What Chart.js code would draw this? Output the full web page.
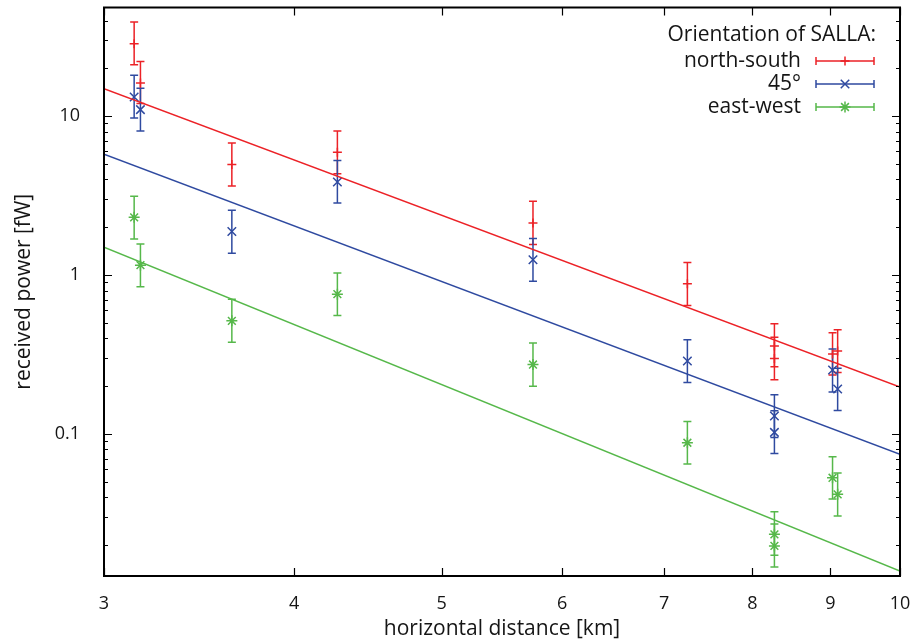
<!DOCTYPE html>
<html>
<head>
<meta charset="utf-8">
<script src="https://cdn.jsdelivr.net/npm/chart.js@4.4.0/dist/chart.umd.min.js"></script>
<style>
    html, body { margin: 0; padding: 0; background: #fff; }
</style>
</head>
<body>
<canvas id="sallaChart" width="912" height="642"></canvas>
<script>
// Distância horizontal dos pontos de medida [km]
const distances = [3.14, 3.17, 3.64, 4.27, 5.74, 7.25, 8.27, 8.27, 9.03, 9.10];

// Potência recebida [fW] e limites das barras de erro, por orientação
const nsPower = [28.6, 16.2, 4.97, 5.94, 2.13, 0.882, 0.358, 0.299, 0.319, 0.333];
const nsLow   = [21.1, 12.0, 3.64, 4.34, 1.56, 0.645, 0.265, 0.220, 0.235, 0.244];
const nsHigh  = [39.2, 22.1, 6.79, 8.08, 2.92, 1.20, 0.494, 0.407, 0.434, 0.453];

const d45Power = [13.2, 11.0, 1.88, 3.86, 1.249, 0.288, 0.130, 0.1025, 0.253, 0.192];
const d45Low   = [9.76, 8.08, 1.375, 2.84, 0.917, 0.211, 0.0953, 0.0756, 0.184, 0.141];
const d45High  = [18.1, 15.0, 2.56, 5.27, 1.70, 0.392, 0.177, 0.140, 0.343, 0.260];

const ewPower = [2.31, 1.156, 0.516, 0.759, 0.274, 0.0882, 0.0234, 0.0198, 0.0531, 0.0418];
const ewLow   = [1.69, 0.844, 0.379, 0.557, 0.200, 0.0648, 0.0173, 0.0146, 0.039, 0.0305];
const ewHigh  = [3.14, 1.57, 0.706, 1.03, 0.374, 0.120, 0.0325, 0.0272, 0.072, 0.0569];

// Retas de ajuste (lei de potência) nos extremos do eixo x
const fitX   = [3, 10];
const nsFit  = [14.9, 0.198];
const d45Fit = [5.77, 0.0745];
const ewFit  = [1.50, 0.01375];

// Rótulos dos eixos
const xTicks = [3, 4, 5, 6, 7, 8, 9, 10];
const yTicks = [0.1, 1, 10];

const RED = '#ec2227';
const BLUE = '#2f4aa0';
const GREEN = '#56b84a';
const TEXT = '#151515';
const FONT = "'Open Sans', sans-serif";

function toPoints(xs, ys) {
    return xs.map((x, i) => ({ x: x, y: ys[i] }));
}

function seriesDataset(label, values, low, high, color, style, radius) {
    return {
        label: label,
        data: toPoints(distances, values),
        errLow: low,
        errHigh: high,
        showLine: false,
        borderColor: color,
        backgroundColor: color,
        pointStyle: style,
        pointRadius: radius,
        pointBorderWidth: 1.5
    };
}

function fitDataset(values, color) {
    return {
        data: toPoints(fitX, values),
        showLine: true,
        borderColor: color,
        borderWidth: 1.5,
        pointRadius: 0,
        fill: false
    };
}

const series = [
    seriesDataset('north-south', nsPower, nsLow, nsHigh, RED, 'cross', 4.5),
    seriesDataset('45°', d45Power, d45Low, d45High, BLUE, 'crossRot', 6),
    seriesDataset('east-west', ewPower, ewLow, ewHigh, GREEN, 'star', 5.5)
];

// Barras de erro desenhadas com as escalas do gráfico
const errorBars = {
    id: 'errorBars',
    beforeDatasetsDraw(chart) {
        const ctx = chart.ctx;
        const xs = chart.scales.x, ys = chart.scales.y;
        ctx.save();
        chart.data.datasets.forEach(ds => {
            if (!ds.errLow) return;
            ctx.strokeStyle = ds.borderColor;
            ctx.lineWidth = 1.5;
            ds.data.forEach((p, i) => {
                const px = xs.getPixelForValue(p.x);
                const y1 = ys.getPixelForValue(ds.errLow[i]);
                const y2 = ys.getPixelForValue(ds.errHigh[i]);
                ctx.beginPath();
                ctx.moveTo(px, y1); ctx.lineTo(px, y2);
                ctx.moveTo(px - 4, y1); ctx.lineTo(px + 4, y1);
                ctx.moveTo(px - 4, y2); ctx.lineTo(px + 4, y2);
                ctx.stroke();
            });
        });
        ctx.restore();
    }
};

// Moldura com marcas para dentro (estilo gnuplot)
const frameTicks = {
    id: 'frameTicks',
    afterDatasetsDraw(chart) {
        const ctx = chart.ctx;
        const a = chart.chartArea;
        const xs = chart.scales.x, ys = chart.scales.y;
        ctx.save();
        ctx.strokeStyle = '#000';
        ctx.lineWidth = 1.2;
        ctx.beginPath();
        xTicks.forEach(v => {
            const px = Math.round(xs.getPixelForValue(v)) + 0.5;
            ctx.moveTo(px, a.bottom); ctx.lineTo(px, a.bottom - 8);
            ctx.moveTo(px, a.top); ctx.lineTo(px, a.top + 8);
        });
        for (let e = -2; e <= 1; e++) {
            for (let m = 1; m <= 9; m++) {
                const v = m * Math.pow(10, e);
                if (v < ys.min || v > ys.max) continue;
                const py = Math.round(ys.getPixelForValue(v)) + 0.5;
                const len = m === 1 ? 8 : 4;
                ctx.moveTo(a.left, py); ctx.lineTo(a.left + len, py);
                ctx.moveTo(a.right, py); ctx.lineTo(a.right - len, py);
            }
        }
        ctx.stroke();
        ctx.lineWidth = 2;
        ctx.strokeRect(a.left, a.top, a.right - a.left, a.bottom - a.top);
        ctx.restore();
    }
};

// Legenda no canto superior direito
const cornerLegend = {
    id: 'cornerLegend',
    afterDraw(chart) {
        const ctx = chart.ctx;
        ctx.save();
        ctx.font = '21px ' + FONT;
        ctx.fillStyle = TEXT;
        ctx.textAlign = 'right';
        ctx.textBaseline = 'middle';
        ctx.fillText('Orientation of SALLA:', 876, 35);
        const rows = [61, 84, 107];
        series.forEach((ds, i) => {
            const y = rows[i];
            ctx.fillStyle = TEXT;
            ctx.fillText(ds.label, 801, y);
            ctx.strokeStyle = ds.borderColor;
            ctx.lineWidth = 1.5;
            ctx.beginPath();
            ctx.moveTo(816, y); ctx.lineTo(874, y);
            ctx.moveTo(816, y - 4); ctx.lineTo(816, y + 4);
            ctx.moveTo(874, y - 4); ctx.lineTo(874, y + 4);
            ctx.stroke();
            Chart.helpers.drawPoint(ctx, {
                pointStyle: ds.pointStyle,
                radius: ds.pointRadius,
                rotation: 0,
                borderWidth: 1.5
            }, 845, y);
        });
        ctx.restore();
    }
};

function noPadding(scale) {
    scale.paddingLeft = 0;
    scale.paddingRight = 0;
    scale.paddingTop = 0;
    scale.paddingBottom = 0;
}

const chartCtx = document.getElementById('sallaChart').getContext('2d');
const sallaChart = new Chart(chartCtx, {
    type: 'scatter',
    data: {
        datasets: [
            fitDataset(nsFit, RED),
            fitDataset(d45Fit, BLUE),
            fitDataset(ewFit, GREEN),
            ...series
        ]
    },
    options: {
        responsive: false,
        animation: false,
        devicePixelRatio: 1,
        layout: { padding: { top: 7, right: 12, left: 0, bottom: 0 } },
        plugins: {
            legend: { display: false },
            tooltip: { enabled: false }
        },
        scales: {
            x: {
                type: 'logarithmic',
                min: 3,
                max: 10,
                grid: { display: false },
                border: { display: false },
                afterBuildTicks: scale => { scale.ticks = xTicks.map(v => ({ value: v })); },
                afterFit: scale => { scale.height = 66; noPadding(scale); },
                ticks: {
                    color: TEXT,
                    font: { family: FONT, size: 18 },
                    padding: 9,
                    maxRotation: 0,
                    callback: v => String(v)
                },
                title: {
                    display: true,
                    text: 'horizontal distance [km]',
                    color: TEXT,
                    font: { family: FONT, size: 21 },
                    padding: { top: 0, bottom: 0 }
                }
            },
            y: {
                type: 'logarithmic',
                min: 0.0128,
                max: 48.3,
                grid: { display: false },
                border: { display: false },
                afterBuildTicks: scale => { scale.ticks = yTicks.map(v => ({ value: v })); },
                afterFit: scale => { scale.width = 104; noPadding(scale); },
                ticks: {
                    color: TEXT,
                    font: { family: FONT, size: 18 },
                    padding: 16,
                    callback: v => String(v)
                },
                title: {
                    display: true,
                    text: 'received power [fW]',
                    color: TEXT,
                    font: { family: FONT, size: 21 },
                    padding: { top: 11, bottom: 0 }
                }
            }
        }
    },
    plugins: [errorBars, frameTicks, cornerLegend]
});
</script>
</body>
</html>
